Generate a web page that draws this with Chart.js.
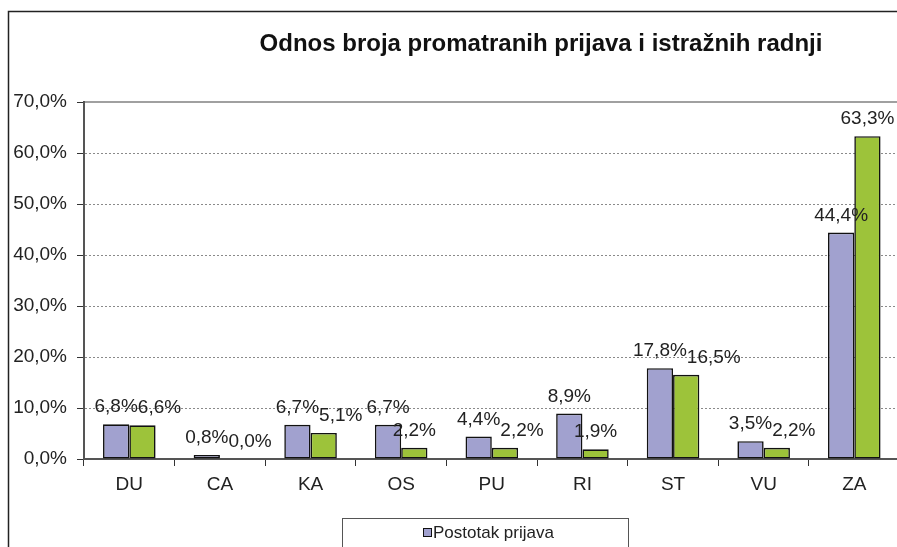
<!DOCTYPE html>
<html>
<head>
<meta charset="utf-8">
<script src="https://cdn.jsdelivr.net/npm/chart.js@4.4.1/dist/chart.umd.min.js"></script>
<style>
    html, body { margin: 0; padding: 0; background: #fff; overflow: hidden; }
    #wrap { width: 904px; height: 547px; }
</style>
</head>
<body>
<div id="wrap"><canvas id="chart" width="904" height="547"></canvas></div>
<script>
const categories = ["DU", "CA", "KA", "OS", "PU", "RI", "ST", "VU", "ZA"];
const postotakPrijava = [6.8, 0.8, 6.7, 6.7, 4.4, 8.9, 17.8, 3.5, 44.4];
const postotakRadnji = [6.6, 0.0, 5.1, 2.2, 2.2, 1.9, 16.5, 2.2, 63.3];
const seriesNames = ["Postotak prijava", "Postotak istražnih radnji"];
const yTicks = { min: 0, max: 70, step: 10 };
const chartTitle = "Odnos broja promatranih prijava i istražnih radnji";

const FONT = "'Liberation Sans', Arial, sans-serif";
const fmt = v => v.toFixed(1).replace(".", ",") + "%";

// white page plus the outer chart frame (left and top edges visible)
const framePlugin = {
    id: "frame",
    beforeDraw(chart) {
        const ctx = chart.ctx;
        ctx.save();
        ctx.fillStyle = "#fff";
        ctx.fillRect(0, 0, chart.width, chart.height);
        ctx.strokeStyle = "#222";
        ctx.lineWidth = 1.5;
        ctx.beginPath();
        ctx.moveTo(8.5, chart.height + 2);
        ctx.lineTo(8.5, 11.5);
        ctx.lineTo(chart.width + 2, 11.5);
        ctx.stroke();
        ctx.font = "bold 24px " + FONT;
        ctx.fillStyle = "#111";
        ctx.textAlign = "center";
        ctx.textBaseline = "middle";
        ctx.fillText(chartTitle, 541, 44);
        ctx.restore();
    }
};

// value labels above bars; second series label pushed right when it collides
const labelPlugin = {
    id: "barLabels",
    afterDatasetsDraw(chart) {
        const ctx = chart.ctx;
        ctx.save();
        ctx.font = "19px " + FONT;
        ctx.fillStyle = "#222";
        ctx.textAlign = "left";
        ctx.textBaseline = "alphabetic";
        const m0 = chart.getDatasetMeta(0).data;
        const m1 = chart.getDatasetMeta(1).data;
        const d0 = chart.data.datasets[0].data;
        const d1 = chart.data.datasets[1].data;
        for (let i = 0; i < m0.length; i++) {
            const t0 = fmt(d0[i]), t1 = fmt(d1[i]);
            const w0 = ctx.measureText(t0).width, w1 = ctx.measureText(t1).width;
            const x0 = m0[i].x - w0 / 2, y0 = m0[i].y - 12;
            let x1 = m1[i].x - w1 / 2;
            const y1 = m1[i].y - 12;
            if (Math.abs(y0 - y1) < 14 && x1 < x0 + w0) x1 = x0 + w0;
            ctx.fillText(t0, x0, y0);
            ctx.fillText(t1, x1, y1);
        }
        ctx.restore();
    }
};

// bordered legend box under the axis
const legendPlugin = {
    id: "boxLegend",
    afterDraw(chart) {
        const ctx = chart.ctx;
        ctx.save();
        ctx.strokeStyle = "#555";
        ctx.lineWidth = 1;
        ctx.strokeRect(342.5, 518.5, 286, 60);
        ctx.font = "17px " + FONT;
        ctx.textBaseline = "middle";
        ctx.textAlign = "left";
        chart.data.datasets.forEach((ds, k) => {
            const y = 533 + k * 22;
            ctx.fillStyle = ds.backgroundColor;
            ctx.fillRect(423.5, y - 4.5, 8, 8);
            ctx.strokeStyle = "#111";
            ctx.strokeRect(423.5, y - 4.5, 8, 8);
            ctx.fillStyle = "#222";
            ctx.fillText(ds.label, 433, y);
        });
        ctx.restore();
    }
};

new Chart(document.getElementById("chart"), {
    type: "bar",
    data: {
        labels: categories,
        datasets: [
            {
                label: seriesNames[0],
                data: postotakPrijava,
                backgroundColor: "#A1A1CF",
                borderColor: "#111",
                borderWidth: 1.6,
                borderSkipped: false
            },
            {
                label: seriesNames[1],
                data: postotakRadnji,
                backgroundColor: "#9DC33A",
                borderColor: "#111",
                borderWidth: 1.6,
                borderSkipped: false
            }
        ]
    },
    options: {
        responsive: false,
        animation: false,
        layout: { padding: { left: 0, top: 102, right: 4.4, bottom: 0 } },
        datasets: { bar: { categoryPercentage: 0.58, barPercentage: 1 } },
        plugins: {
            legend: { display: false },
            title: { display: false },
            tooltip: { enabled: false }
        },
        scales: {
            x: {
                type: "category",
                position: "bottom",
                afterFit: s => { s.height = 88; },
                grid: { offset: true, drawOnChartArea: false, tickLength: 7, tickColor: "#333", tickWidth: 1 },
                border: { color: "#555", width: 2 },
                ticks: { color: "#222", padding: 7, font: { family: FONT, size: 19 } }
            },
            x2: {
                type: "category",
                position: "top",
                afterFit: s => { s.height = 0; },
                grid: { display: false, drawTicks: false },
                border: { color: "#A0A0A0", width: 2 },
                ticks: { display: false }
            },
            y: {
                min: yTicks.min,
                max: yTicks.max,
                afterFit: s => { s.width = 84; },
                grid: {
                    color: c => (c.tick.value === yTicks.min || c.tick.value === yTicks.max) ? "rgba(0,0,0,0)" : "#8A8A8A",
                    lineWidth: 1,
                    tickLength: 7,
                    tickColor: "#333",
                    tickWidth: 1
                },
                border: { color: "#555", width: 2, dash: [2, 2] },
                ticks: {
                    stepSize: yTicks.step,
                    padding: 10,
                    color: "#222",
                    font: { family: FONT, size: 19 },
                    callback: v => fmt(v)
                }
            }
        }
    },
    plugins: [framePlugin, labelPlugin, legendPlugin]
});
</script>
</body>
</html>
